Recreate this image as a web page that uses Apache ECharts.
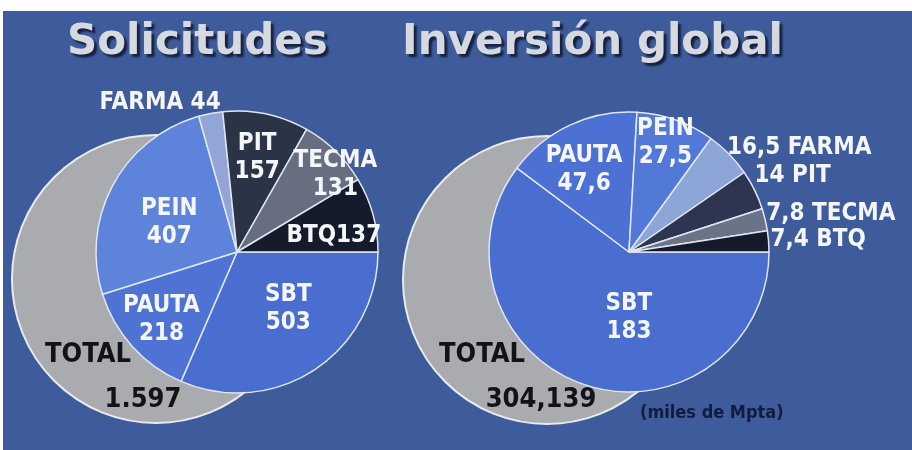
<!DOCTYPE html>
<html>
<head>
<meta charset="utf-8">
<script src="https://cdn.jsdelivr.net/npm/echarts@6/dist/echarts.min.js"></script>
<style>
  html, body { margin: 0; padding: 0; background: #fff; }
  #chart { width: 912px; height: 450px; }
</style>
</head>
<body>
<div id="chart"></div>
<script>
// datos
var titulos = ['Solicitudes', 'Inversión global'];
var categorias = ['SBT', 'PAUTA', 'PEIN', 'FARMA', 'PIT', 'TECMA', 'BTQ'];
var solicitudes = [503, 218, 407, 44, 157, 131, 137];
var inversion = [183, 47.6, 27.5, 16.5, 14, 7.8, 7.4];
var totales = [1597, 304.139];
var nota = '(miles de Mpta)';

var coloresIzq = ['#4a6ed0', '#4e73d4', '#5d84da', '#92a5d6', '#2b3347', '#666e80', '#151b2b'];
var coloresDer = ['#4a6dd0', '#4c70d3', '#5279d8', '#8ea5d8', '#2d3550', '#6b7386', '#141a2a'];

var fuente = '"Liberation Sans Narrow", "DejaVu Sans Condensed", "Arial Narrow", sans-serif';

function fmtSol(v) {
    return String(v).replace(/\B(?=(\d{3})+(?!\d))/g, '.');
}
function fmtInv(v) {
    return String(v).replace('.', ',');
}

// ajustes de etiquetas
var fueraIzq = {FARMA: true};
var fueraDer = {FARMA: true, PIT: true, TECMA: true, BTQ: true};
var offIzq = {SBT: [11, -5], PAUTA: [-21, 19], PEIN: [-3, 6], PIT: [5, -22], TECMA: [47, -25], BTQ: [26, 3], FARMA: [12, -11]};
var offDer = {SBT: [23, -3], PAUTA: [-14, -16], PEIN: [12, -40], FARMA: [-4, -6], PIT: [-2, -14], TECMA: [-1, -6], BTQ: [0, -2]};

var dataIzq = categorias.map(function (c, i) {
    var v = solicitudes[i];
    var txt = c + '\n' + fmtSol(v);
    if (c === 'FARMA') txt = c + ' ' + fmtSol(v);
    if (c === 'BTQ') txt = c + fmtSol(v);
    return {
        name: c, value: v,
        itemStyle: {color: coloresIzq[i]},
        label: {
            position: fueraIzq[c] ? 'outside' : 'inside',
            offset: offIzq[c] || [0, 0],
            formatter: txt
        }
    };
});

var dataDer = categorias.map(function (c, i) {
    var v = inversion[i];
    var txt = fueraDer[c] ? fmtInv(v) + ' ' + c : c + '\n' + fmtInv(v);
    return {
        name: c, value: v,
        itemStyle: {color: coloresDer[i]},
        label: {
            position: fueraDer[c] ? 'outside' : 'inside',
            offset: offDer[c] || [0, 0],
            formatter: txt
        }
    };
});

var estiloTitulo = {
    fontFamily: '"DejaVu Sans", sans-serif',
    fontWeight: 'bold',
    fontSize: 42,
    color: '#d6dae0',
    textShadowColor: '#17213f',
    textShadowOffsetX: 3,
    textShadowOffsetY: 3,
    textShadowBlur: 2
};

var etiqueta = {
    show: true,
    color: '#f4f6fa',
    fontFamily: fuente,
    fontWeight: 'bold'
};

function fondoTotal(centro, valor) {
    return {
        type: 'pie',
        silent: true,
        center: centro,
        radius: 144,
        startAngle: 0,
        label: {show: false},
        labelLine: {show: false},
        itemStyle: {color: '#a9abaf', borderColor: '#e8ecf2', borderWidth: 2},
        data: [{name: 'TOTAL', value: valor}]
    };
}

function pieSerie(centro, radio, datos, fs, lh) {
    return {
        type: 'pie',
        silent: true,
        center: centro,
        radius: radio,
        startAngle: 0,
        clockwise: true,
        avoidLabelOverlap: false,
        labelLayout: {hideOverlap: false},
        label: Object.assign({}, etiqueta, {fontSize: fs, lineHeight: lh, distanceToLabelLine: 2}),
        labelLine: {show: false, length: 0, length2: 0},
        itemStyle: {borderColor: '#dfe6f5', borderWidth: 1.5},
        data: datos
    };
}

var textoTotal = {fontFamily: fuente, fontWeight: 'bold', fontSize: 27, fill: '#111318'};

var myChart = echarts.init(document.getElementById('chart'));
var option = {
    backgroundColor: '#ffffff',
    animation: false,
    graphic: [
        {type: 'rect', z: -10, shape: {x: 3, y: 11, width: 909, height: 439}, style: {fill: '#3e5c9b'}},
        {type: 'text', z: 10, x: 88, y: 355, style: Object.assign({text: 'TOTAL', align: 'center', verticalAlign: 'middle'}, textoTotal)},
        {type: 'text', z: 10, x: 143, y: 400, style: Object.assign({text: fmtSol(totales[0]), align: 'center', verticalAlign: 'middle'}, textoTotal)},
        {type: 'text', z: 10, x: 482, y: 355, style: Object.assign({text: 'TOTAL', align: 'center', verticalAlign: 'middle'}, textoTotal)},
        {type: 'text', z: 10, x: 541, y: 400, style: Object.assign({text: fmtInv(totales[1]), align: 'center', verticalAlign: 'middle'}, textoTotal)},
        {type: 'text', z: 10, x: 640, y: 413, style: {text: nota, align: 'left', verticalAlign: 'middle', fontFamily: fuente, fontWeight: 'bold', fontSize: 18, fill: '#121b3c'}}
    ],
    title: [
        {text: titulos[0], left: 67, top: 22, padding: 0, textStyle: estiloTitulo},
        {text: titulos[1], left: 402, top: 22, padding: 0, textStyle: estiloTitulo}
    ],
    series: [
        fondoTotal([156, 279], totales[0]),
        fondoTotal([547, 280], totales[1]),
        pieSerie([237, 252], 141, dataIzq, 24, 28),
        pieSerie([629, 252], 140, dataDer, 24, 28)
    ]
};
myChart.setOption(option);
</script>
</body>
</html>
